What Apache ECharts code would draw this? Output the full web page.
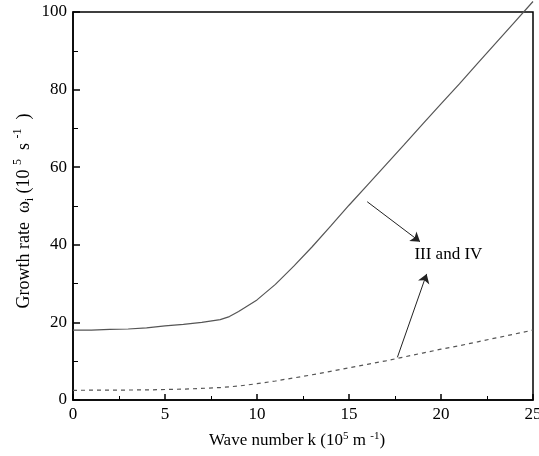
<!DOCTYPE html>
<html>
<head>
<meta charset="utf-8">
<script src="https://cdn.jsdelivr.net/npm/echarts@6/dist/echarts.min.js"></script>
<style>
  html, body { margin: 0; padding: 0; background: #fff; }
  #chart { width: 539px; height: 456px; }
</style>
</head>
<body>
<div id="chart"></div>
<script>
// wave number k (10^5 m^-1) and growth rates
const solidK = [0, 1, 2, 3, 4, 5, 6, 7, 8, 8.5, 9, 9.5, 10, 10.5, 11, 12, 13, 14, 15, 16, 17, 18, 19, 20, 21, 22, 23, 24, 25];
const solidRate = [18.0, 18.0, 18.2, 18.3, 18.6, 19.1, 19.5, 20.0, 20.7, 21.5, 22.8, 24.3, 25.8, 27.8, 29.8, 34.5, 39.5, 44.8, 50.2, 55.4, 60.6, 65.8, 71.1, 76.3, 81.5, 86.8, 92.1, 97.4, 102.7];

const dashK = [0, 2, 4, 6, 8, 9, 10, 11, 12, 13, 14, 15, 16, 17, 18, 19, 20, 21, 22, 23, 24, 25];
const dashRate = [2.5, 2.55, 2.6, 2.8, 3.2, 3.6, 4.2, 4.9, 5.7, 6.5, 7.4, 8.3, 9.2, 10.1, 11.1, 12.1, 13.1, 14.0, 15.0, 16.0, 17.0, 18.0];

// annotation: arrows [fromK, fromRate, toK, toRate] and label position
const arrows = [
    [15.99, 51.1, 18.86, 40.8],
    [17.63, 11.0, 19.22, 32.5]
];
const noteLabel = "III and IV";
const notePos = [20.4, 37.4];

const serif = "'Liberation Serif', 'DejaVu Serif', serif";

const chart = echarts.init(document.getElementById("chart"));

const option = {
    backgroundColor: "#fff",
    animation: false,
    grid: {
        left: 73, right: 6, top: 12, bottom: 56,
        outerBoundsMode: "none",
        containLabel: false,
        show: true,
        borderColor: "#000",
        borderWidth: 1.5
    },
    xAxis: {
        type: "value",
        min: 0, max: 25, interval: 5,
        axisLine: { show: true, lineStyle: { color: "#000", width: 1.5 } },
        axisTick: { show: true, inside: true, length: 6, lineStyle: { color: "#000", width: 1.5 } },
        minorTick: { show: true, splitNumber: 2, length: 4, lineStyle: { color: "#000", width: 1 } },
        splitLine: { show: false },
        axisLabel: { color: "#000", fontFamily: serif, fontSize: 17, margin: 6 },
        name: "Wave number k (10{sup|5} m {sup|-1})",
        nameLocation: "middle",
        nameGap: 31,
        nameTextStyle: {
            color: "#000", fontFamily: serif, fontSize: 17, lineHeight: 20,
            padding: [0, 12, 0, 0],
            rich: {
                sup: { fontFamily: serif, fontSize: 11, verticalAlign: "top", lineHeight: 20 }
            }
        }
    },
    yAxis: {
        type: "value",
        min: 0, max: 100, interval: 20,
        axisLine: { show: true, lineStyle: { color: "#000", width: 1.5 } },
        axisTick: { show: true, inside: true, length: 7, lineStyle: { color: "#000", width: 1.5 } },
        minorTick: { show: true, splitNumber: 2, length: 5, lineStyle: { color: "#000", width: 1 } },
        splitLine: { show: false },
        axisLabel: { color: "#000", fontFamily: serif, fontSize: 17, margin: 6 },
        name: "Growth rate  ω{sub|i} (10 {sup|5}  s {sup|-1}  )",
        nameLocation: "middle",
        nameMoveOverlap: false,
        nameGap: 37,
        nameTextStyle: {
            color: "#000", fontFamily: serif, fontSize: 18, lineHeight: 24,
            padding: [0, 10, 0, 0],
            rich: {
                sup: { fontFamily: serif, fontSize: 12, verticalAlign: "top", lineHeight: 24 },
                sub: { fontFamily: serif, fontSize: 12, verticalAlign: "bottom", lineHeight: 24 }
            }
        }
    },
    series: [
        {
            name: "solid",
            type: "line",
            data: solidK.map((k, i) => [k, solidRate[i]]),
            showSymbol: false,
            clip: false,
            lineStyle: { color: "#555", width: 1.2 },
            markLine: {
                silent: true,
                symbol: ["none", "arrow"],
                symbolSize: 9,
                label: { show: false },
                lineStyle: { color: "#222", width: 1, type: "solid" },
                data: arrows.map(a => [
                    { coord: [a[0], a[1]] },
                    { coord: [a[2], a[3]] }
                ])
            },
            markPoint: {
                silent: true,
                symbolSize: 0,
                data: [{ coord: notePos, value: noteLabel }],
                label: {
                    show: true,
                    position: "inside",
                    formatter: noteLabel,
                    color: "#000",
                    fontFamily: serif,
                    fontSize: 17
                }
            }
        },
        {
            name: "dashed",
            type: "line",
            data: dashK.map((k, i) => [k, dashRate[i]]),
            showSymbol: false,
            lineStyle: { color: "#555", width: 1.2, type: [4, 4] }
        }
    ]
};

chart.setOption(option);
</script>
</body>
</html>
